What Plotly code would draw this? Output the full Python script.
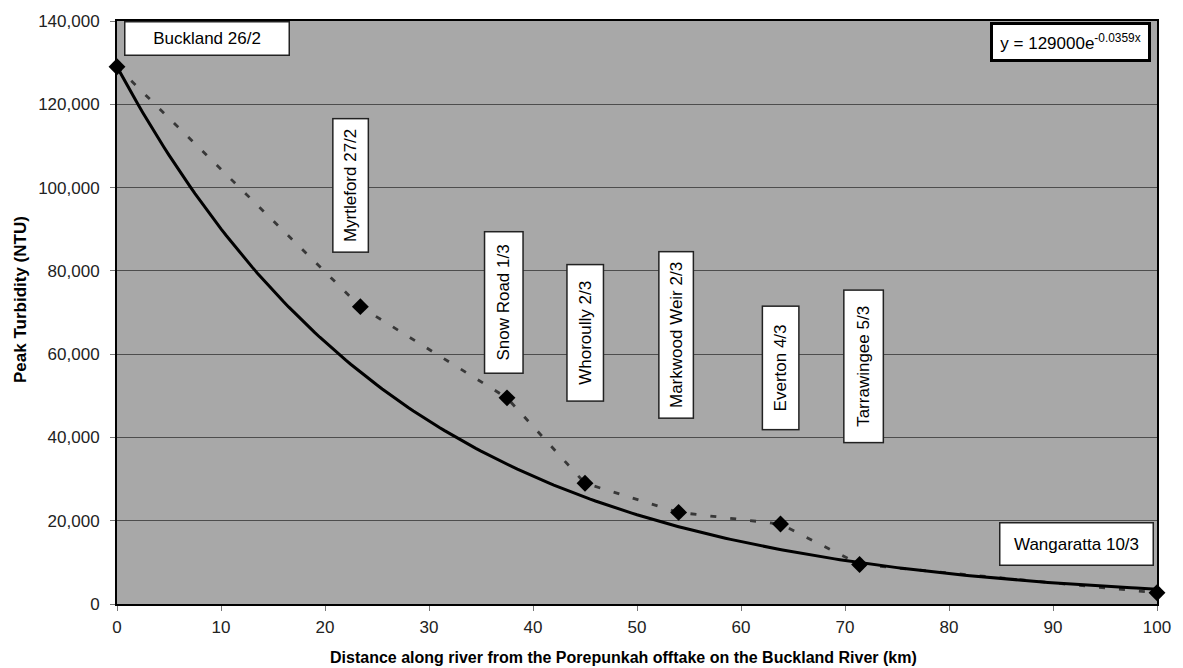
import numpy as np
import plotly.graph_objects as go

# ---- data ----
sites = ["Buckland 26/2", "Myrtleford 27/2", "Snow Road 1/3", "Whoroully 2/3",
         "Markwood Weir 2/3", "Everton 4/3", "Tarrawingee 5/3", "Wangaratta 10/3"]
distance_km = [0, 23.4, 37.5, 45.0, 54.0, 63.8, 71.4, 100]
peak_ntu = [129000, 71400, 49500, 29000, 22000, 19200, 9500, 2700]

fit_a = 129000
fit_b = -0.0359
equation_text = "y = 129000e<sup>-0.0359x</sup>"

x_title = "Distance along river from the Porepunkah offtake on the Buckland River (km)"
y_title = "Peak Turbidity (NTU)"

# label box placement (data coords centre, box length, box breadth, angle)
label_layout = [
    (8.7, 135700, 163, 32, 0),
    (22.5, 100400, 132, 34, -90),
    (37.2, 72500, 140, 37, -90),
    (45.05, 65000, 135, 35, -90),
    (53.8, 64500, 165, 33, -90),
    (63.8, 56700, 122, 35, -90),
    (71.8, 57000, 151, 38, -90),
    (92.3, 14300, 152, 41, 0),
]

FONT = "Liberation Sans, Arial, sans-serif"

fit_x = np.linspace(0, 100, 201)
fit_y = fit_a * np.exp(fit_b * fit_x)

fig = go.Figure()
fig.add_trace(go.Scatter(
    x=distance_km, y=peak_ntu, mode="lines+markers",
    line=dict(color="#383838", width=2.8, dash="6px,14px"),
    marker=dict(symbol="diamond", size=13, color="black"),
    cliponaxis=False, showlegend=False, hoverinfo="x+y"))
fig.add_trace(go.Scatter(
    x=fit_x, y=fit_y, mode="lines",
    line=dict(color="black", width=3),
    showlegend=False, hoverinfo="skip"))

annotations = []
for name, (lx, ly, length, breadth, ang) in zip(sites, label_layout):
    annotations.append(dict(
        x=lx, y=ly, xref="x", yref="y", text=name, showarrow=False,
        textangle=ang, width=length, height=breadth, align="center", valign="middle",
        bgcolor="white", bordercolor="#222", borderwidth=1.5, borderpad=0,
        font=dict(family=FONT, size=17, color="black")))

annotations.append(dict(
    x=91.7, y=134960, xref="x", yref="y", text=equation_text, showarrow=False,
    width=155, height=34, bgcolor="white", bordercolor="black", borderwidth=3, borderpad=0,
    align="center", valign="middle",
    font=dict(family=FONT, size=17, color="black")))

annotations.append(dict(
    x=(623 - 117) / 1040, y=-(657 - 604) / 583, xref="paper", yref="paper",
    text="<b>" + x_title + "</b>", showarrow=False, xanchor="center", yanchor="middle",
    font=dict(family=FONT, size=16, color="black")))
annotations.append(dict(
    x=-(117 - 20) / 1040, y=(604 - 300) / 583, xref="paper", yref="paper",
    text="<b>" + y_title + "</b>", showarrow=False, textangle=-90,
    xanchor="center", yanchor="middle",
    font=dict(family=FONT, size=17, color="black")))

fig.update_layout(
    width=1183, height=668,
    margin=dict(l=117, r=26, t=21, b=64),
    paper_bgcolor="white", plot_bgcolor="#a8a8a8",
    font=dict(family=FONT, size=17, color="#222"),
    annotations=annotations,
    xaxis=dict(range=[0, 100], dtick=10, showgrid=False, zeroline=False,
               showline=True, linecolor="black", linewidth=2, mirror=True,
               ticks="outside", ticklen=5, tickcolor="#777", ticklabelstandoff=2,
               tickfont=dict(family=FONT, size=17, color="#222")),
    yaxis=dict(range=[0, 140000], dtick=20000, tickformat=",d",
               showgrid=True, gridcolor="#4d4d4d", gridwidth=1, zeroline=False,
               showline=True, linecolor="black", linewidth=2, mirror=True,
               ticks="outside", ticklen=5, tickcolor="#777", ticklabelstandoff=7,
               tickfont=dict(family=FONT, size=17, color="#222")),
)

fig.write_html("out.html", config={"displayModeBar": False},
               post_script="document.body.style.margin='0';document.body.style.overflow='hidden';")
